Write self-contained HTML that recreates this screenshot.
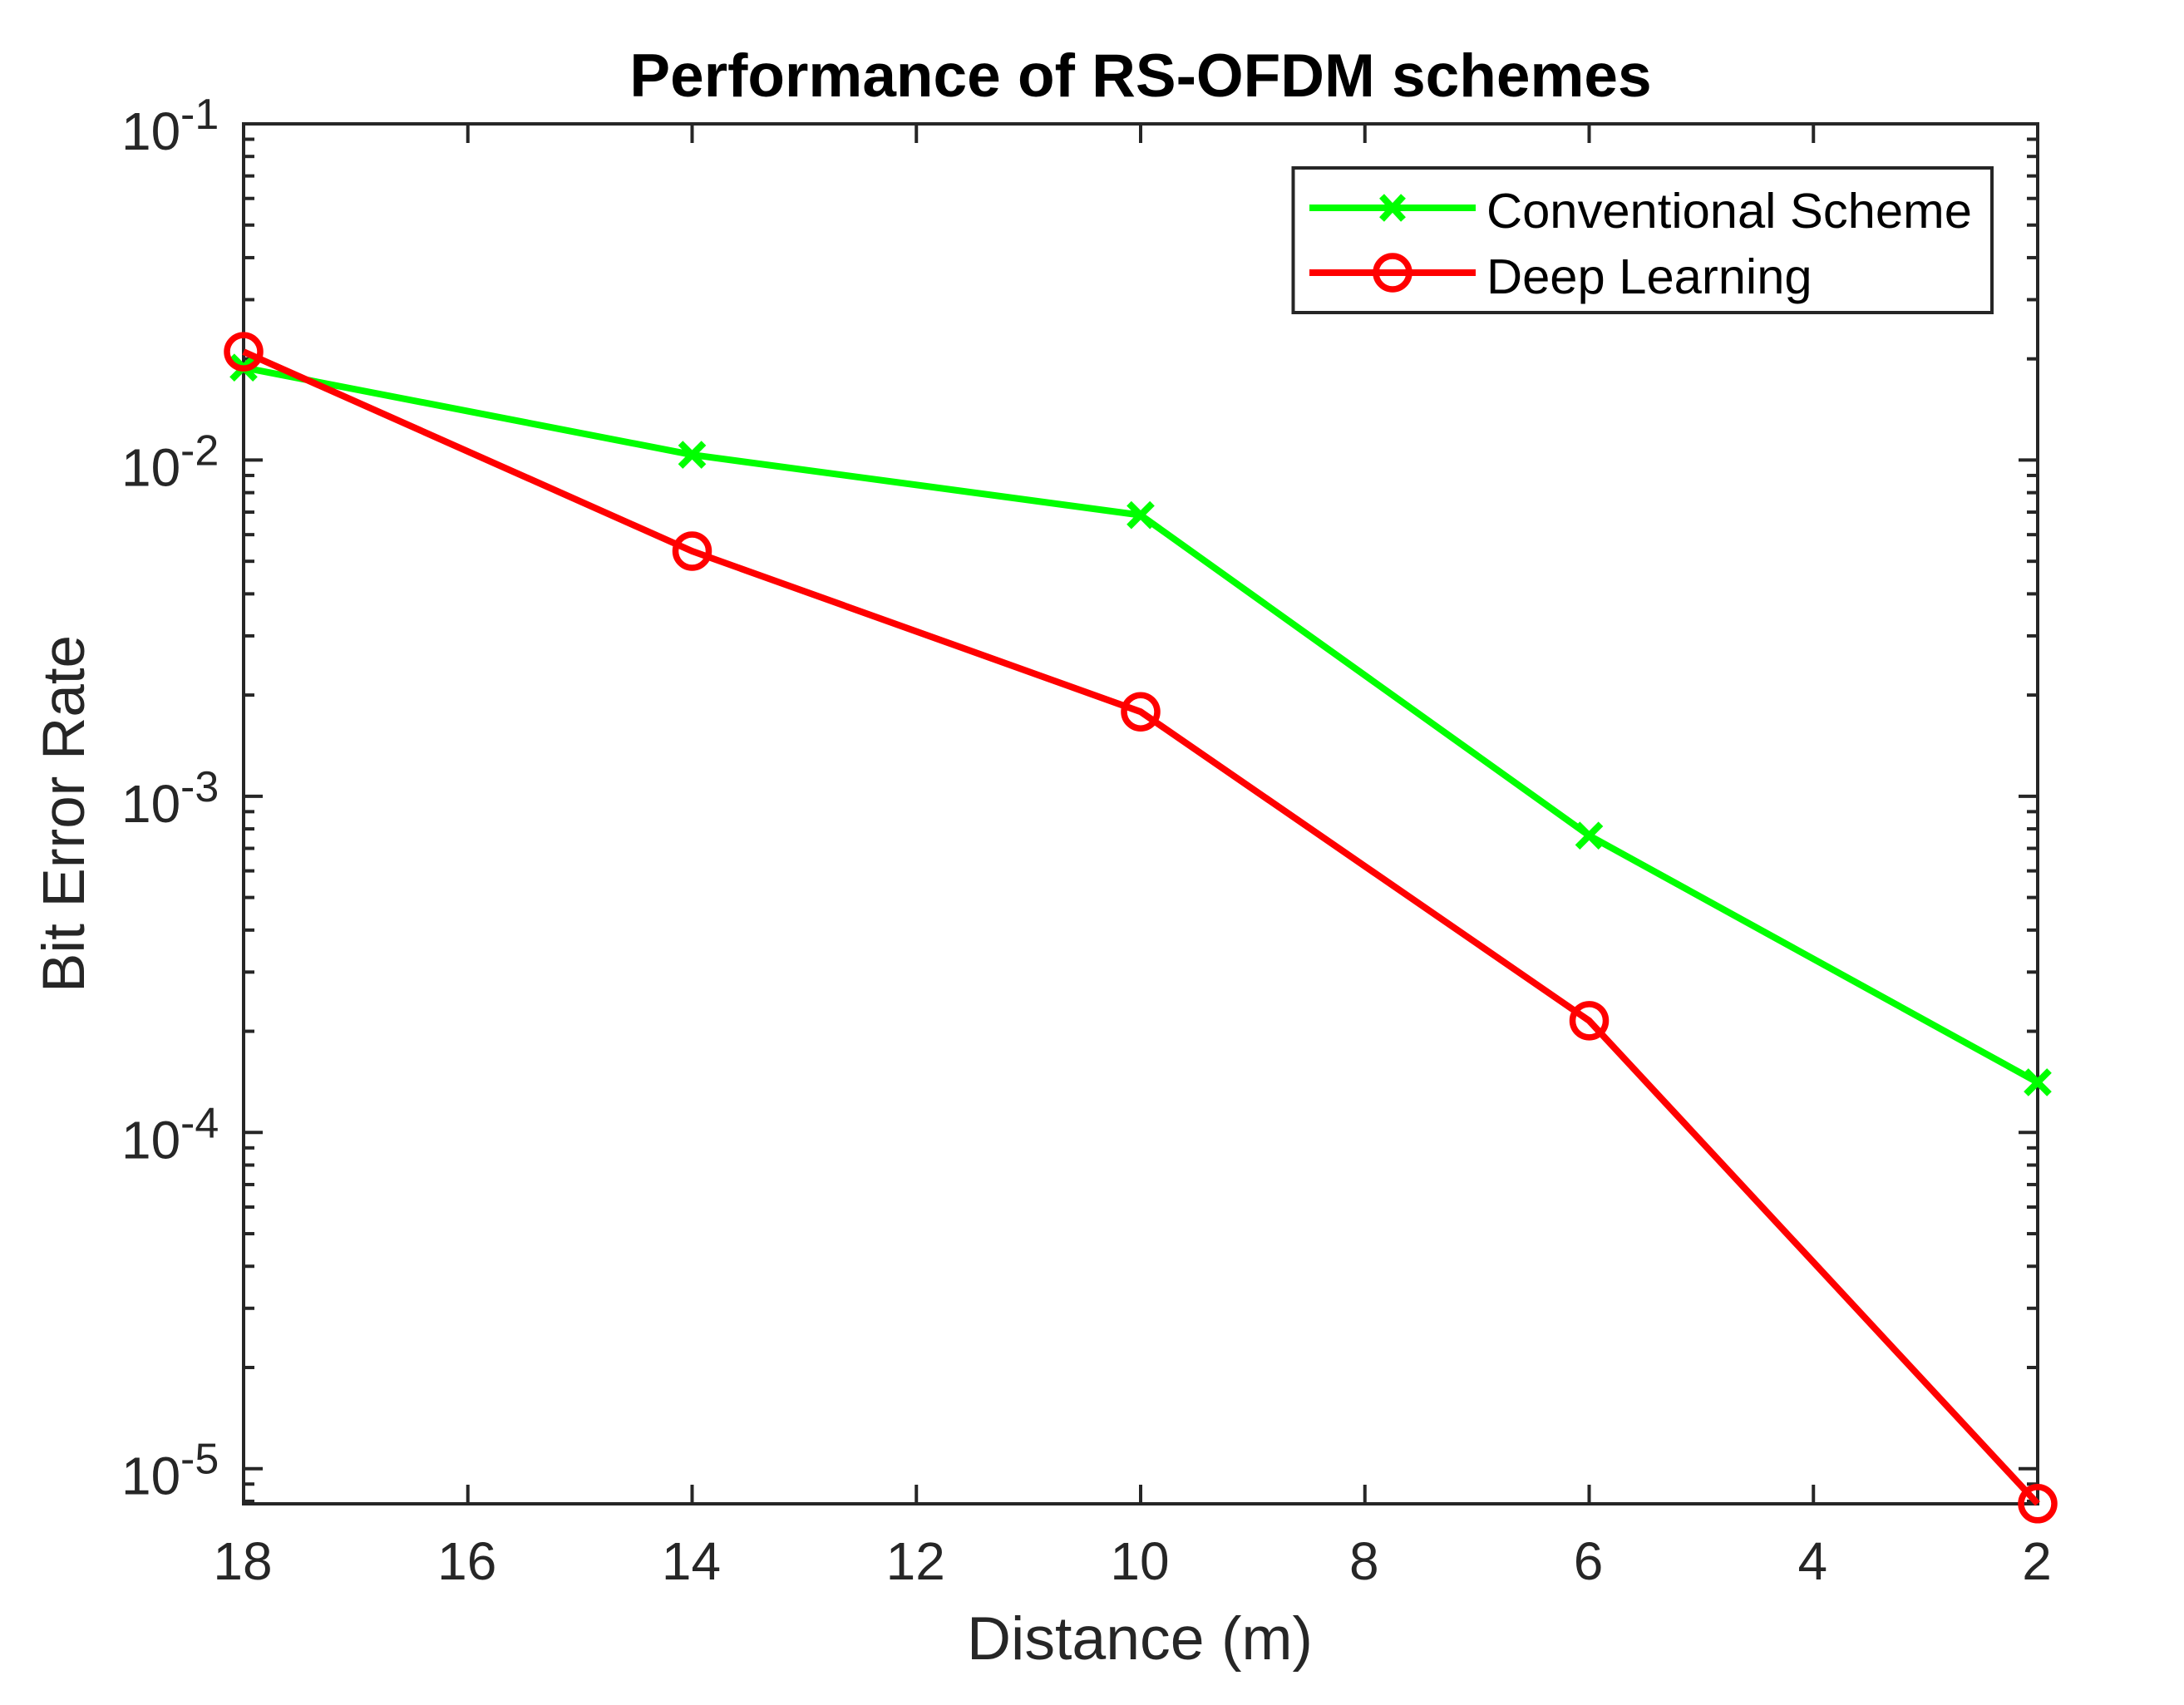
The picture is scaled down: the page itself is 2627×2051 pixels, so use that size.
<!DOCTYPE html>
<html>
<head>
<meta charset="utf-8">
<title>Performance of RS-OFDM schemes</title>
<style>
html,body{margin:0;padding:0;background:#fff;}
svg{display:block;}
text{font-family:"Liberation Sans",Arial,sans-serif;}
</style>
</head>
<body>
<svg id="chart" xmlns="http://www.w3.org/2000/svg" width="2627" height="2051" viewBox="0 0 2627 2051">
  <rect x="0" y="0" width="2627" height="2051" fill="#ffffff"/>
  <text x="1372" y="116" font-size="73" font-weight="700" fill="#000" text-anchor="middle">Performance of RS-OFDM schemes</text>
  <text x="1371" y="1996" font-size="73.4" fill="#262626" text-anchor="middle">Distance (m)</text>
  <text transform="translate(101,979) rotate(-90)" font-size="71" fill="#262626" text-anchor="middle">Bit Error Rate</text>
  <g id="ticks"></g>
  <g id="labels"></g>
  <rect x="293" y="149" width="2158" height="1660" fill="none" stroke="#262626" stroke-width="4"/>
  <g id="series"></g>
  <g>
    <rect x="1555.5" y="202" width="840.5" height="174" fill="#fff" stroke="#262626" stroke-width="4"/>
    <line x1="1575" y1="250" x2="1775" y2="250" stroke="#00ff00" stroke-width="8"/>
    <path d="M1662 236L1688 264M1662 264L1688 236" stroke="#00ff00" stroke-width="8" fill="none"/>
    <text x="1788" y="274" font-size="59.7" fill="#000">Conventional Scheme</text>
    <line x1="1575" y1="328" x2="1775" y2="328" stroke="#ff0000" stroke-width="8"/>
    <circle cx="1675" cy="328" r="20" fill="none" stroke="#ff0000" stroke-width="7.5"/>
    <text x="1788" y="353" font-size="59.7" fill="#000">Deep Learning</text>
  </g>
</svg>
<script>
const distances = [18, 14, 10, 6, 2];
const conventionalBer = [0.01884, 0.01037, 0.00686, 0.000764, 0.000141];
const deepLearningBer = [0.0210, 0.00536, 0.001784, 0.000215, 0.00000787];
const xTickValues = [18, 16, 14, 12, 10, 8, 6, 4, 2];
const yDecadeExponents = [-1, -2, -3, -4, -5];
const minorMultipliers = [2, 3, 4, 5, 6, 7, 8, 9];

const NS = 'http://www.w3.org/2000/svg';
const plot = {left: 293, right: 2451, top: 149, bottom: 1809};
const xDomain = [18, 2];
const yLogDomain = [-1, -5.1045];
function xScale(v) {
  return plot.left + (v - xDomain[0]) / (xDomain[1] - xDomain[0]) * (plot.right - plot.left);
}
function yScale(v) {
  return plot.top + (Math.log10(v) - yLogDomain[0]) / (yLogDomain[1] - yLogDomain[0]) * (plot.bottom - plot.top);
}
function make(tag, attrs, parent) {
  const el = document.createElementNS(NS, tag);
  for (const k in attrs) el.setAttribute(k, attrs[k]);
  parent.appendChild(el);
  return el;
}
const ticksG = document.getElementById('ticks');
const labelsG = document.getElementById('labels');
const seriesG = document.getElementById('series');
const axisColor = '#262626';
const tickW = 4;

xTickValues.forEach(function (v) {
  const x = xScale(v);
  const bottomTick = make('line', {x1: x, x2: x, y1: plot.bottom, y2: plot.bottom - 23, stroke: axisColor, 'stroke-width': tickW}, ticksG);
  
  
  const topTick = make('line', {x1: x, x2: x, y1: plot.top, y2: plot.top + 23, stroke: axisColor, 'stroke-width': tickW}, ticksG);
  
  
  const label = make('text', {x: x - 1, y: 1900, 'font-size': 64, fill: axisColor, 'text-anchor': 'middle'}, labelsG);
  label.textContent = String(v);
  
  
});

function yTick(y, len, name) {
  const l = make('line', {x1: plot.left, x2: plot.left + len, y1: y, y2: y, stroke: axisColor, 'stroke-width': tickW}, ticksG);
  
  
  const r = make('line', {x1: plot.right, x2: plot.right - len, y1: y, y2: y, stroke: axisColor, 'stroke-width': tickW}, ticksG);
  
  
}
yDecadeExponents.forEach(function (e) {
  const y = yScale(Math.pow(10, e));
  yTick(y, 23, 'y-major-tick');
  const base = make('text', {x: 146, y: y + 31, 'font-size': 64, fill: axisColor}, labelsG);
  base.textContent = '10';
  
  
  const exp = make('text', {x: 217, y: y + 6, 'font-size': 52, fill: axisColor}, labelsG);
  exp.textContent = String(e);
  
  
});
[-2, -3, -4, -5, -6].forEach(function (e) {
  minorMultipliers.forEach(function (m) {
    const v = m * Math.pow(10, e);
    const y = yScale(v);
    if (y >= plot.top && y <= plot.bottom) yTick(y, 13, 'y-minor-tick');
  });
});

function drawSeries(values, color, name) {
  const pts = distances.map(function (d, i) { return xScale(d) + ',' + yScale(values[i]); }).join(' ');
  const line = make('polyline', {points: pts, fill: 'none', stroke: color, 'stroke-width': 8, 'stroke-linejoin': 'round'}, seriesG);
  
  
}
function drawCrosses(values, color, name) {
  distances.forEach(function (d, i) {
    const x = xScale(d), y = yScale(values[i]), s = 14;
    const p = make('path', {d: 'M' + (x - s) + ' ' + (y - s) + 'L' + (x + s) + ' ' + (y + s) + 'M' + (x - s) + ' ' + (y + s) + 'L' + (x + s) + ' ' + (y - s), stroke: color, 'stroke-width': 8, fill: 'none'}, seriesG);
    
    
  });
}
function drawCircles(values, color, name) {
  distances.forEach(function (d, i) {
    const c = make('circle', {cx: xScale(d), cy: yScale(values[i]), r: 20, fill: 'none', stroke: color, 'stroke-width': 7.5}, seriesG);
    
    
  });
}
drawSeries(conventionalBer, '#00ff00', 'conventional-scheme');
drawCrosses(conventionalBer, '#00ff00', 'conventional-scheme');
drawSeries(deepLearningBer, '#ff0000', 'deep-learning');
drawCircles(deepLearningBer, '#ff0000', 'deep-learning');
</script>
</body>
</html>
